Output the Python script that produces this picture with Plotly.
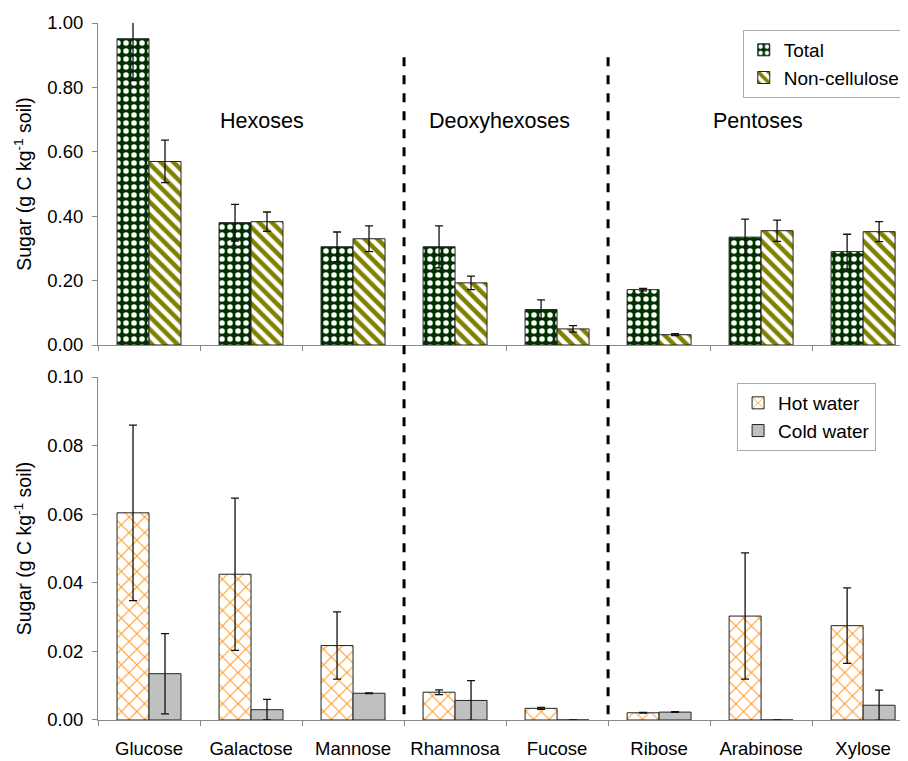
import plotly.graph_objects as go
from plotly.subplots import make_subplots

sugars = ["Glucose", "Galactose", "Mannose", "Rhamnosa", "Fucose", "Ribose", "Arabinose", "Xylose"]

total = [0.951, 0.380, 0.305, 0.305, 0.110, 0.172, 0.335, 0.290]
total_err = [0.13, 0.057, 0.046, 0.065, 0.030, 0.004, 0.056, 0.054]
noncell = [0.570, 0.383, 0.330, 0.193, 0.050, 0.032, 0.355, 0.352]
noncell_err = [0.066, 0.030, 0.040, 0.021, 0.010, 0.003, 0.033, 0.031]

hot = [0.0604, 0.0425, 0.0217, 0.0081, 0.0034, 0.0021, 0.0303, 0.0275]
hot_err = [0.0256, 0.0222, 0.0098, 0.0007, 0.0003, 0.0001, 0.0184, 0.0110]
cold = [0.0135, 0.0030, 0.0078, 0.0057, 0.0, 0.0023, 0.0, 0.0043]
cold_err = [0.0117, 0.0030, 0.0001, 0.0058, 0.0, 0.0001, 0.0, 0.0044]

groups = ["Hexoses", "Deoxyhexoses", "Pentoses"]
group_x = [1.11, 3.44, 5.97]
dividers = [2.5, 4.5]

FONT = "Liberation Sans, Arial, sans-serif"

fig = make_subplots(rows=2, cols=1, shared_xaxes=True, vertical_spacing=0.0)

err_style = dict(type="data", color="#111111", thickness=1.3, width=4)

fig.add_trace(go.Bar(
    x=sugars, y=total, name="Total",
    error_y=dict(array=total_err, **err_style),
    marker=dict(color="#003300", line=dict(color="#222222", width=1),
                pattern=dict(shape=".", fgcolor="white", bgcolor="#003300", fgopacity=1,
                             size=8, solidity=0.38)),
    legend="legend"), row=1, col=1)
fig.add_trace(go.Bar(
    x=sugars, y=noncell, name="Non-cellulose",
    error_y=dict(array=noncell_err, **err_style),
    marker=dict(color="white", line=dict(color="#222222", width=1),
                pattern=dict(shape="\\", fgcolor="#808000", bgcolor="white", fgopacity=1,
                             size=9, solidity=0.5)),
    legend="legend"), row=1, col=1)
fig.add_trace(go.Bar(
    x=sugars, y=hot, name="Hot water",
    error_y=dict(array=hot_err, **err_style),
    marker=dict(color="white", line=dict(color="#222222", width=1),
                pattern=dict(shape="x", fgcolor="#FF9F2F", bgcolor="white", fgopacity=1,
                             size=11, solidity=0.2)),
    legend="legend2"), row=2, col=1)
fig.add_trace(go.Bar(
    x=sugars, y=cold, name="Cold water",
    error_y=dict(array=cold_err, **err_style),
    marker=dict(color="#C0C0C0", line=dict(color="#222222", width=1)),
    legend="legend2"), row=2, col=1)

fig.update_layout(
    yaxis=dict(domain=[0.538, 1.0]),
    yaxis2=dict(domain=[0.0, 0.4921]),
)

axis_common = dict(showline=True, linecolor="#888888", linewidth=1, ticks="outside",
                   ticklen=5, tickcolor="#888888", showgrid=False, zeroline=False,
                   automargin=False,
                   tickfont=dict(family=FONT, size=18.5, color="black"))

fig.update_xaxes(**axis_common, tickson="boundaries", range=[-0.5, 7.44], ticklabelstandoff=12)
fig.update_xaxes(showticklabels=False, row=1, col=1)
fig.update_yaxes(**axis_common, ticklabelstandoff=5)
fig.update_yaxes(range=[0, 1.0], dtick=0.2, tickformat=".2f", row=1, col=1)
fig.update_yaxes(range=[0, 0.10], dtick=0.02, tickformat=".2f", row=2, col=1)
ytitle = dict(text="Sugar (g C kg<sup>-1</sup> soil)",
              font=dict(family=FONT, size=19.5, color="black"), standoff=10)
fig.update_yaxes(title=ytitle)

for xd in dividers:
    fig.add_shape(type="line", xref="x", yref="paper", x0=xd, x1=xd, y0=0.951, y1=0,
                  line=dict(color="black", width=3, dash="dash"))

for g, gx in zip(groups, group_x):
    fig.add_annotation(x=gx, y=0.696, xref="x", yref="y", text=g, showarrow=False,
                       font=dict(family=FONT, size=21.5, color="black"))

legend_common = dict(bgcolor="white", bordercolor="#AAAAAA", borderwidth=1,
                     font=dict(family=FONT, size=19, color="black"),
                     xanchor="left", yanchor="top", tracegroupgap=0)

fig.update_layout(
    barmode="group", bargap=0.373, bargroupgap=0.0,
    width=900, height=753,
    margin=dict(l=90, r=0, t=15, b=41),
    plot_bgcolor="white", paper_bgcolor="white",
    font=dict(family=FONT, size=18, color="black"),
    legend=dict(x=0.796, y=0.99, **legend_common),
    legend2=dict(x=0.789, y=0.4835, **legend_common),
)

fig.write_html("out.html")
